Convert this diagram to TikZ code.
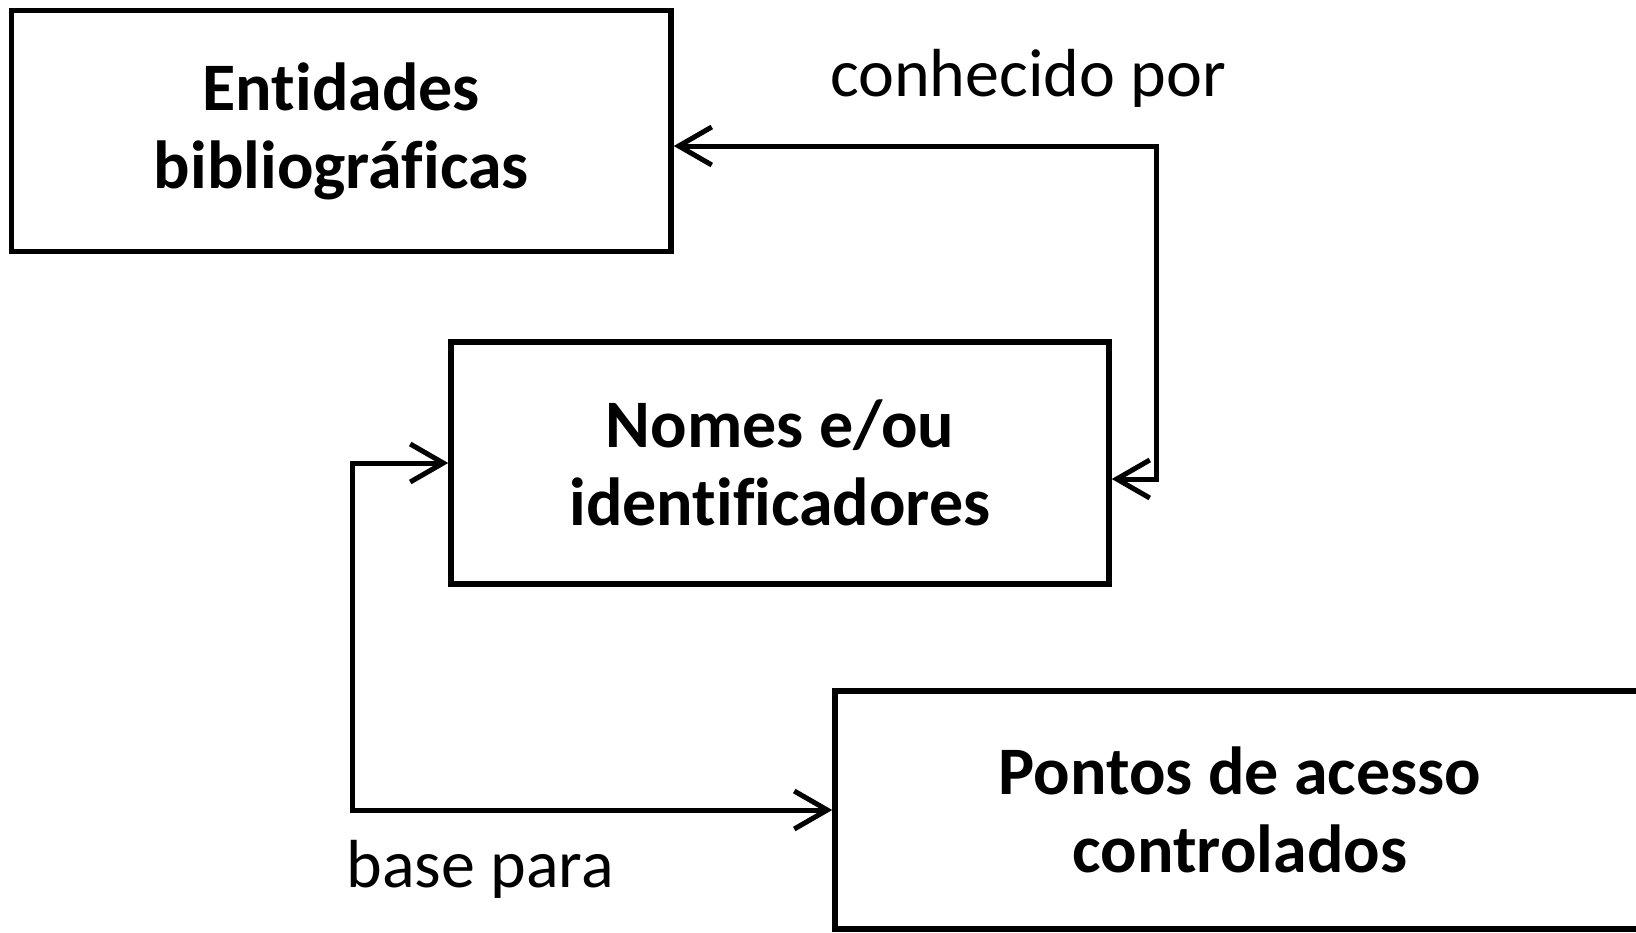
\documentclass[tikz,border=0pt]{standalone}
\usepackage{fontspec}
\setmainfont[Ligatures=NoCommon]{Carlito}
\usetikzlibrary{arrows.meta}
\begin{document}
\begin{tikzpicture}[x=1pt,y=-1pt,
  box/.style={draw, line width=5.5pt, rectangle, inner sep=0pt, align=center,
    font=\bfseries\fontsize{68}{78}\selectfont},
  lbl/.style={inner sep=0pt, font=\fontsize{68}{78}\selectfont},
  conn/.style={line width=5pt, line join=miter, {Straight Barb[length=33pt,width=38pt]}-{Straight Barb[length=33pt,width=38pt]}}
]
\useasboundingbox (0,0) rectangle (1636,932);
\node[box, minimum width=659.5pt, minimum height=241pt] (b1) at (341.25,131) {Entidades\\bibliográficas};
\node[box, minimum width=658pt, minimum height=242pt] (b2) at (780,463) {Nomes e/ou\\identificadores};
\node[box, minimum width=810pt, minimum height=238pt] (b3) at (1240,810) {Pontos de acesso\\controlados};
\coordinate (c1) at (1156,146);
\coordinate (c2) at (1156,479);
\coordinate (k) at (352,810);
\draw[conn] (b1.east |- c1) -- (c1) -- (c2) -- (b2.east |- c2);
\draw[conn] (b2.west) -| (k) -- (b3.west);
\node[lbl] (l1) at (1028,78) {conhecido por};
\node[lbl] (l2) at (480,869) {base para};
\end{tikzpicture}
\end{document}
